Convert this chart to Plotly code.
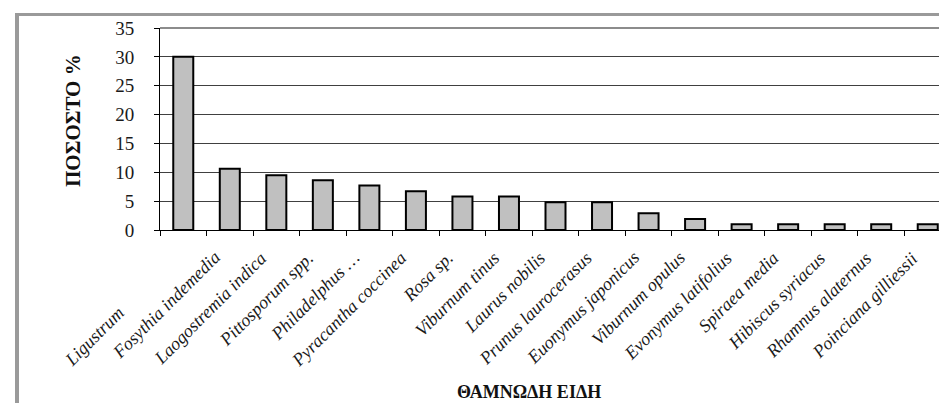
import plotly.graph_objects as go

categories = ["Ligustrum", "Fosythia indemedia", "Laogostremia indica", "Pittosporum spp.",
              "Philadelphus …", "Pyracantha coccinea", "Rosa sp.", "Viburnum tinus",
              "Laurus nobilis", "Prunus laurocerasus", "Euonymus japonicus", "Viburnum opulus",
              "Evonymus latifolius", "Spiraea media", "Hibiscus syriacus", "Rhamnus alaternus",
              "Poinciana gilliessii"]
values = [30.0, 10.6, 9.5, 8.6, 7.7, 6.7, 5.8, 5.8, 4.8, 4.8, 2.9, 1.9, 1.0, 1.0, 1.0, 1.0, 1.0]
y_ticks = [0, 5, 10, 15, 20, 25, 30, 35]
y_title = "ΠΟΣΟΣΤΟ %"
x_title = "ΘΑΜΝΩΔΗ ΕΙΔΗ"

W, H = 947, 403
L, R, T, B = 152, 4, 20, 181
PW, PH = W - L - R, H - T - B
SERIF = '"Liberation Serif", "Times New Roman", Times, serif'


def px(x):
    return (x - L) / PW


def py(y):
    return (H - B - y) / PH


fig = go.Figure(go.Bar(
    x=categories, y=values,
    marker=dict(color="#c0c0c0", line=dict(color="#000000", width=2)),
))

annotations = []
for i, c in enumerate(categories):
    xs, ys = -3, -15
    if i == 0:
        xs, ys = -52, -70
    annotations.append(dict(
        x=c, y=0, xref="x", yref="y", text=c, showarrow=False,
        textangle=-45, xanchor="right", yanchor="top", xshift=xs, yshift=ys,
        font=dict(family=SERIF, size=18, color="#1a1a1a", style="italic"),
    ))

annotations.append(dict(
    x=px(65), y=py(113), xref="paper", yref="paper", text=y_title, showarrow=False,
    textangle=-90, xanchor="center", yanchor="middle",
    font=dict(family=SERIF, size=21, color="#111111", weight="bold"),
))
annotations.append(dict(
    x=px(521), y=py(384), xref="paper", yref="paper", text=x_title, showarrow=False,
    xanchor="center", yanchor="middle",
    font=dict(family=SERIF, size=18, color="#111111", weight="bold"),
))

shapes = [
    dict(type="line", xref="paper", yref="paper", x0=px(9), x1=px(960), y0=py(6.5), y1=py(6.5),
         line=dict(color="#9a9a9a", width=3)),
    dict(type="line", xref="paper", yref="paper", x0=px(9), x1=px(9), y0=py(5), y1=py(403),
         line=dict(color="#9a9a9a", width=4)),
    dict(type="line", xref="paper", yref="paper", x0=px(7), x1=px(960), y0=py(401.5), y1=py(401.5),
         line=dict(color="#5a5a5a", width=3)),
    dict(type="line", xref="paper", yref="paper", x0=0, x1=1, y0=1, y1=1,
         line=dict(color="#8c8c8c", width=2)),
    dict(type="line", xref="paper", yref="paper", x0=1, x1=1, y0=0, y1=1,
         line=dict(color="#8c8c8c", width=2)),
]

fig.update_layout(
    width=W, height=H,
    margin=dict(l=L, r=R, t=T, b=B),
    paper_bgcolor="white", plot_bgcolor="white",
    showlegend=False, bargap=0.57,
    font=dict(family=SERIF),
    annotations=annotations, shapes=shapes,
    xaxis=dict(
        type="category", showticklabels=False, ticks="outside", tickson="boundaries",
        ticklen=5, tickcolor="#000000", showline=True, linecolor="#000000", linewidth=1,
        showgrid=False, range=[-0.5, len(categories) - 0.5],
    ),
    yaxis=dict(
        range=[0, 35], tickvals=y_ticks, ticks="outside", ticklen=5, tickcolor="#000000",
        showline=True, linecolor="#000000", linewidth=1,
        showgrid=True, gridcolor="#404040", gridwidth=1, zeroline=False,
        tickfont=dict(family=SERIF, size=19, color="#1a1a1a"),
        ticklabelstandoff=16,
    ),
)

fig.write_html("out.html")
